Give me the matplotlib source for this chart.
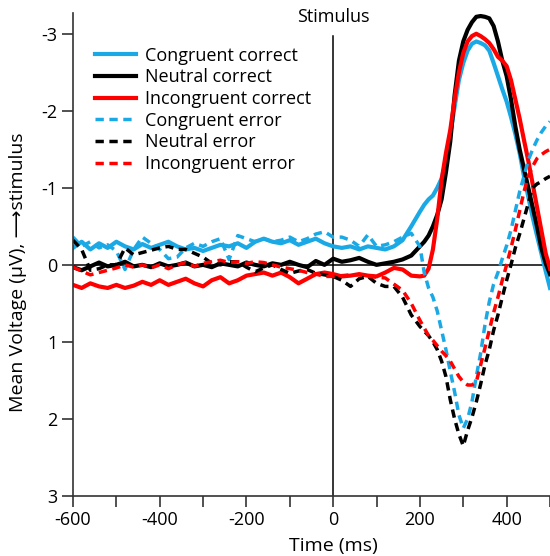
import numpy as np
from matplotlib import pyplot as plt

# time axis: 20 ms steps up to 200 ms, 10 ms steps afterwards
time_ms = list(range(-600, 201, 20)) + list(range(210, 501, 10))

# mean voltage (uV), negative drawn upward
congruent_correct = [
    -0.22, -0.30, -0.20, -0.28, -0.22, -0.30, -0.24, -0.20, -0.27, -0.22, -0.26,
    -0.30, -0.24, -0.20, -0.22, -0.18, -0.22, -0.26, -0.24, -0.28, -0.22, -0.30,
    -0.34, -0.30, -0.28, -0.32, -0.26, -0.30, -0.34, -0.28, -0.24,
    -0.22, -0.24, -0.20, -0.24, -0.22, -0.20, -0.24, -0.32, -0.50, -0.69,
    -0.78, -0.85, -0.90, -1.00, -1.12, -1.35, -1.70, -2.05, -2.40, -2.62,
    -2.78, -2.87, -2.90, -2.88, -2.85, -2.78, -2.62, -2.45, -2.28, -2.12,
    -1.92, -1.70, -1.45, -1.15, -0.88, -0.62, -0.38, -0.15, 0.08, 0.30]
neutral_correct = [
    0.03, 0.07, 0.02, -0.03, 0.02, 0.00, -0.04, 0.02, 0.00, 0.03, -0.02,
    0.02, 0.00, -0.03, 0.02, 0.00, 0.03, -0.02, 0.00, 0.02, -0.03, 0.00,
    0.02, -0.02, 0.00, -0.04, 0.00, 0.03, -0.05, 0.00, -0.08,
    -0.04, -0.06, -0.09, -0.04, 0.00, -0.02, -0.04, -0.07, -0.12, -0.24,
    -0.30, -0.38, -0.50, -0.65, -0.85, -1.20, -1.60, -2.20, -2.65, -2.90,
    -3.05, -3.15, -3.22, -3.23, -3.22, -3.20, -3.10, -2.90, -2.65, -2.45,
    -2.15, -1.80, -1.50, -1.25, -1.00, -0.75, -0.50, -0.22, -0.02, 0.12]
incongruent_correct = [
    0.26, 0.30, 0.24, 0.28, 0.30, 0.26, 0.30, 0.27, 0.22, 0.26, 0.20,
    0.26, 0.22, 0.18, 0.24, 0.28, 0.20, 0.16, 0.24, 0.20, 0.14, 0.12,
    0.10, 0.14, 0.10, 0.16, 0.24, 0.18, 0.12, 0.10, 0.12,
    0.15, 0.14, 0.12, 0.14, 0.15, 0.10, 0.04, 0.06, 0.14, 0.15,
    0.14, 0.05, -0.20, -0.60, -1.10, -1.45, -1.75, -2.15, -2.50, -2.75,
    -2.90, -2.97, -3.00, -2.97, -2.93, -2.88, -2.80, -2.70, -2.65, -2.58,
    -2.40, -2.15, -1.90, -1.62, -1.35, -1.05, -0.75, -0.45, -0.15, 0.05]
congruent_error = [
    -0.36, -0.24, -0.30, -0.22, -0.26, -0.18, 0.06, -0.20, -0.36, -0.28, -0.20,
    -0.08, -0.10, -0.22, -0.28, -0.24, -0.30, -0.34, -0.07, -0.38, -0.34, -0.30,
    -0.34, -0.30, -0.32, -0.36, -0.30, -0.34, -0.40, -0.43, -0.36,
    -0.36, -0.32, -0.24, -0.39, -0.24, -0.26, -0.30, -0.36, -0.41, -0.24,
    0.10, 0.30, 0.42, 0.60, 0.85, 1.10, 1.38, 1.65, 1.95, 2.12,
    2.00, 1.78, 1.45, 1.15, 0.78, 0.48, 0.25, 0.10, -0.08, -0.25,
    -0.45, -0.70, -0.95, -1.15, -1.36, -1.50, -1.62, -1.72, -1.80, -1.86]
neutral_error = [
    -0.32, -0.20, 0.07, 0.05, 0.00, 0.00, -0.22, -0.13, -0.16, -0.19, -0.22,
    -0.24, -0.20, -0.20, -0.15, -0.10, -0.02, 0.00, -0.04, -0.04, 0.03, 0.09,
    0.04, 0.00, 0.06, 0.11, 0.08, 0.06, 0.11, 0.13, 0.15,
    0.20, 0.28, 0.18, 0.15, 0.24, 0.28, 0.28, 0.42, 0.65, 0.80,
    0.86, 0.92, 1.00, 1.10, 1.25, 1.45, 1.75, 2.00, 2.20, 2.35,
    2.15, 1.98, 1.78, 1.55, 1.30, 1.10, 0.85, 0.65, 0.42, 0.20,
    0.00, -0.22, -0.40, -0.60, -0.80, -1.00, -1.05, -1.08, -1.12, -1.15]
incongruent_error = [
    0.03, 0.08, 0.13, 0.10, 0.07, 0.04, 0.00, 0.03, 0.00, 0.04, 0.00,
    0.05, 0.00, -0.03, 0.02, -0.02, -0.04, -0.06, -0.03, -0.04, -0.02, -0.04,
    -0.03, 0.00, 0.03, 0.05, 0.07, 0.10, 0.12, 0.15, 0.15,
    0.14, 0.13, 0.13, 0.15, 0.16, 0.17, 0.25, 0.33, 0.50, 0.72,
    0.82, 0.92, 0.98, 1.05, 1.12, 1.18, 1.25, 1.35, 1.45, 1.52,
    1.56, 1.56, 1.52, 1.30, 1.08, 0.85, 0.62, 0.42, 0.20, 0.00,
    -0.22, -0.45, -0.70, -0.95, -1.15, -1.28, -1.38, -1.43, -1.47, -1.50]

BLUE = '#1BA9E6'
RED = '#FF0000'
AXIS = '#333333'

plt.rcParams['font.family'] = ['Open Sans', 'DejaVu Sans']
plt.rcParams['axes.unicode_minus'] = False

fig = plt.figure(figsize=(5.5, 5.56), dpi=100)
ax = fig.add_axes([0.1327, 0.108, 0.8673, 0.8687])

ax.axhline(0, color='black', lw=1.1, zorder=1)
ax.plot([0, 0], [3, -2.97], color='black', lw=1.1, zorder=1)
ax.text(0, -3.22, 'Stimulus', ha='center', va='center', fontsize=13)

solid_lw = 3.0
dash_lw = 2.5
dashes = (2.4, 1.6)
ax.plot(time_ms, congruent_correct, color=BLUE, lw=solid_lw, label='Congruent correct')
ax.plot(time_ms, neutral_correct, color='black', lw=solid_lw, label='Neutral correct')
ax.plot(time_ms, incongruent_correct, color=RED, lw=solid_lw, label='Incongruent correct')
ax.plot(time_ms, congruent_error, color=BLUE, lw=dash_lw, ls='--', dashes=dashes,
        label='Congruent error')
ax.plot(time_ms, neutral_error, color='black', lw=dash_lw, ls='--', dashes=dashes,
        label='Neutral error')
ax.plot(time_ms, incongruent_error, color=RED, lw=dash_lw, ls='--', dashes=dashes,
        label='Incongruent error')

ax.set_xlim(-600, 500)
ax.set_ylim(3, -3.27)
ax.set_xticks(range(-600, 501, 200))
ax.set_xticks(range(-500, 501, 200), minor=True)
ax.set_yticks(range(-3, 4))
ax.tick_params(which='both', direction='out', length=8, width=1.2, color=AXIS,
               labelsize=13, pad=3)
for side in ('top', 'right'):
    ax.spines[side].set_visible(False)
for side in ('left', 'bottom'):
    ax.spines[side].set_linewidth(1.2)
    ax.spines[side].set_color(AXIS)

ax.set_xlabel('Time (ms)', fontsize=14)
ax.xaxis.set_label_coords(0.545, -0.085)
ax.set_ylabel('Mean Voltage (μV), ⟶stimulus', fontsize=14)
ax.yaxis.set_label_coords(-0.096, 0.464)

ax.legend(loc='upper left', bbox_to_anchor=(0.046, 0.93), frameon=False,
          fontsize=13, handlelength=2.3, labelspacing=0.2, handletextpad=0.45,
          borderpad=0, borderaxespad=0)

fig.savefig('out.png', dpi=100)
